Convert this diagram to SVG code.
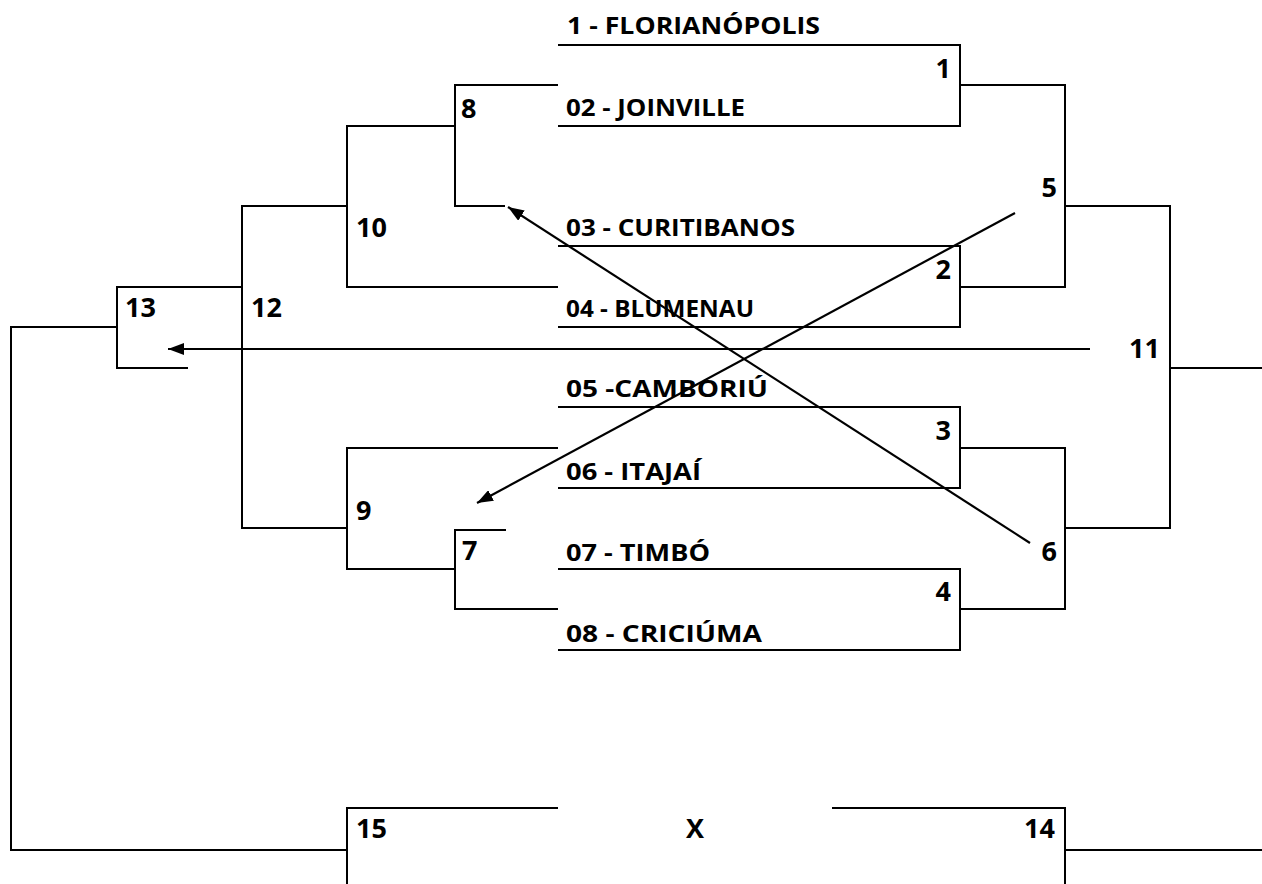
<svg xmlns="http://www.w3.org/2000/svg" width="1262" height="884" viewBox="0 0 1262 884">
<defs>
<style>
.ln{fill:none;stroke:#000;stroke-width:2}
.ar{fill:none;stroke:#000;stroke-width:2.2}
text{font-family:"Open Sans","Liberation Sans",sans-serif;font-weight:bold;fill:#000}
.t{font-size:23px}
.n{font-size:27px}
.r{text-anchor:end}
.m{text-anchor:middle}
</style>
<marker id="ah" viewBox="0 0 16 12" refX="16" refY="6" markerWidth="16" markerHeight="12" markerUnits="userSpaceOnUse" orient="auto">
<path d="M0,0 L16,6 L0,12 Z" fill="#000"/>
</marker>
</defs>
<rect width="1262" height="884" fill="#fff"/>

<g id="match1"><path class="ln" d="M558,45 H960 V126 H558"/><text class="t" x="567" y="34" textLength="253" lengthAdjust="spacingAndGlyphs">1 - FLORIANÓPOLIS</text><text class="t" x="566" y="116" textLength="179" lengthAdjust="spacingAndGlyphs">02 - JOINVILLE</text><text class="n r" x="951" y="78">1</text></g>
<g id="match2"><path class="ln" d="M558,246 H960 V327 H558"/><text class="t" x="566" y="236" textLength="229" lengthAdjust="spacingAndGlyphs">03 - CURITIBANOS</text><text class="t" x="566" y="317" textLength="188" lengthAdjust="spacingAndGlyphs">04 - BLUMENAU</text><text class="n r" x="951" y="279">2</text></g>
<g id="match3"><path class="ln" d="M558,407 H960 V488 H558"/><text class="t" x="566" y="397" textLength="202" lengthAdjust="spacingAndGlyphs">05 -CAMBORIÚ</text><text class="t" x="566" y="480" textLength="135" lengthAdjust="spacingAndGlyphs">06 - ITAJAÍ</text><text class="n r" x="951" y="440">3</text></g>
<g id="match4"><path class="ln" d="M558,569 H960 V650 H558"/><text class="t" x="566" y="561" textLength="144" lengthAdjust="spacingAndGlyphs">07 - TIMBÓ</text><text class="t" x="566" y="642" textLength="196" lengthAdjust="spacingAndGlyphs">08 - CRICIÚMA</text><text class="n r" x="951" y="601">4</text></g>
<g id="match5"><path class="ln" d="M960,85 H1065 V287 H960"/><text class="n r" x="1057" y="197">5</text></g>
<g id="match6"><path class="ln" d="M960,448 H1065 V609 H960"/><text class="n r" x="1057" y="561">6</text></g>
<g id="match11"><path class="ln" d="M1065,206 H1170 V528 H1065 M1170,368 H1262"/><text class="n r" x="1160" y="358">11</text></g>
<g id="match8"><path class="ln" d="M558,85 H455 V206 H505"/><text class="n" x="461" y="118">8</text></g>
<g id="match7"><path class="ln" d="M506,530 H455 V609 H558"/><text class="n" x="462" y="560">7</text></g>
<g id="match10"><path class="ln" d="M455,126 H347 V287 H558"/><text class="n" x="356" y="237">10</text></g>
<g id="match9"><path class="ln" d="M558,448 H347 V569 H455"/><text class="n" x="356" y="520">9</text></g>
<g id="match12"><path class="ln" d="M347,206 H242 V528 H347"/><text class="n" x="251" y="317">12</text></g>
<g id="match13"><path class="ln" d="M242,287 H117 V368 H188"/><text class="n" x="125" y="317">13</text></g>
<g id="match15"><path class="ln" d="M117,327 H11 V850 H347 M347,884 V808 H558"/><text class="n" x="356" y="838">15</text></g>
<g id="final"><text class="n m" x="695" y="838">X</text></g>
<g id="match14"><path class="ln" d="M832,808 H1065 V884 M1065,850 H1262"/><text class="n r" x="1055" y="838">14</text></g>

<g id="connectors">
<line class="ar" x1="1090" y1="349" x2="168" y2="349" marker-end="url(#ah)"/>
<line class="ar" x1="1015" y1="213" x2="477" y2="503" marker-end="url(#ah)"/>
<line class="ar" x1="1030" y1="543" x2="508" y2="207" marker-end="url(#ah)"/>
</g>
</svg>
